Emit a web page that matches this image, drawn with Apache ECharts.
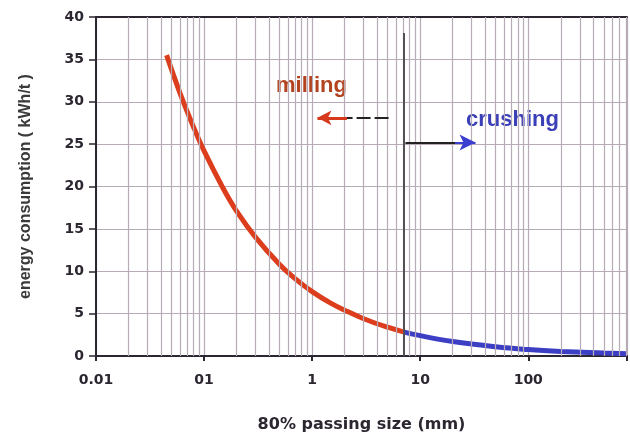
<!DOCTYPE html>
<html>
<head>
<meta charset="utf-8">
<script src="https://cdn.jsdelivr.net/npm/echarts@6/dist/echarts.min.js"></script>
<style>
  html, body { margin: 0; padding: 0; background: #fff; }
  #chart { width: 630px; height: 438px; }
</style>
</head>
<body>
<div id="chart"></div>
<script>
// 80% passing size (mm) -> energy (kWh/t)
const millingSize = [0.045, 0.06, 0.08, 0.1, 0.15, 0.2, 0.3, 0.5, 0.7, 1, 1.5, 2, 3, 5, 7];
const millingEnergy = [35.5, 31.0, 27.0, 24.2, 19.8, 17.1, 14.0, 10.8, 9.1, 7.6, 6.2, 5.4, 4.4, 3.4, 2.85];
const crushingSize = [7, 10, 20, 50, 100, 200, 500, 820];
const crushingEnergy = [2.85, 2.4, 1.7, 1.08, 0.76, 0.54, 0.34, 0.26];

const xTickValues = [0.01, 0.1, 1, 10, 100];
const xTickLabels = ['0.01', '01', '1', '10', '100'];
const xMin = 0.01;
const xMax = 820; // picture is cut just before 1000
const boundarySize = 7;

const chart = echarts.init(document.getElementById('chart'));

// minor log grid lines (2..9 of each decade)
const minorLines = [];
for (let d = 0.01; d < 1000; d *= 10) {
    for (let m = 2; m <= 9; m++) {
        const v = +(d * m).toPrecision(3);
        if (v < xMax) minorLines.push({ xAxis: v });
    }
}

const gridColor = '#b7abb7';
const dark = '#2c2630';
const tickFont = { fontFamily: 'DejaVu Sans', fontWeight: 'bold', fontSize: 14, color: dark };

chart.setOption({
    animation: false,
    grid: { left: 96, top: 17, right: 0, bottom: 81 },
    xAxis: [
        {
            type: 'log',
            logBase: 10,
            min: xMin,
            max: xMax,
            interval: 1,
            name: '80% passing size (mm)',
            nameLocation: 'middle',
            nameGap: 61,
            nameTextStyle: { fontFamily: 'DejaVu Sans', fontWeight: 'bold', fontSize: 16, color: dark },
            axisLine: { lineStyle: { color: dark, width: 2 } },
            axisTick: { length: 5, lineStyle: { color: dark, width: 2 } },
            axisLabel: Object.assign({
                margin: 17,
                formatter: v => {
                    const i = xTickValues.findIndex(t => Math.abs(Math.log10(t) - Math.log10(v)) < 1e-6);
                    return i >= 0 ? xTickLabels[i] : '';
                }
            }, tickFont),
            splitLine: { show: true, lineStyle: { color: gridColor, width: 1.2 } }
        },
        {
            // top frame line only
            type: 'log',
            logBase: 10,
            min: xMin,
            max: xMax,
            position: 'top',
            axisLine: { show: true, lineStyle: { color: dark, width: 2 } },
            axisTick: { show: false },
            axisLabel: { show: false },
            splitLine: { show: false }
        }
    ],
    yAxis: {
        type: 'value',
        min: 0,
        max: 40,
        interval: 5,
        name: 'energy consumption ( kWh/t )',
        nameLocation: 'middle',
        nameGap: 62,
        nameTextStyle: { fontFamily: 'Liberation Sans', fontWeight: 'bold', fontSize: 16, color: '#3a3a3a' },
        axisLine: { show: true, lineStyle: { color: dark, width: 2 } },
        axisTick: { show: true, length: 7, lineStyle: { color: dark, width: 1.5 } },
        axisLabel: Object.assign({ margin: 12 }, tickFont),
        splitLine: { show: true, lineStyle: { color: gridColor, width: 1.2 } }
    },
    series: [
        {
            type: 'line',
            data: [],
            silent: true,
            markLine: {
                silent: true,
                symbol: 'none',
                label: { show: false },
                lineStyle: { color: gridColor, width: 1.2, type: 'solid' },
                data: minorLines
            }
        },
        {
            name: 'milling',
            type: 'line',
            smooth: 0.4,
            showSymbol: false,
            data: millingSize.map((x, i) => [x, millingEnergy[i]]),
            lineStyle: { color: '#dc3d1c', width: 5 },
            markLine: {
                silent: true,
                label: { show: false },
                data: [
                    [{ coord: [boundarySize, 0], symbol: 'none' },
                     { coord: [boundarySize, 38.1], symbol: 'none', lineStyle: { color: '#555055', width: 2, type: 'solid' } }],
                    [{ coord: [5.1, 28.1], symbol: 'none' },
                     { coord: [2.05, 28.1], symbol: 'none', lineStyle: { color: '#222', width: 2, type: [14, 4] } }],
                    [{ coord: [2.1, 28.1], symbol: 'none' },
                     { coord: [1.12, 28.1], symbol: 'arrow', symbolSize: [11, 14], lineStyle: { color: '#d6391c', width: 3, type: 'solid' } }]
                ]
            }
        },
        {
            name: 'crushing',
            type: 'line',
            smooth: 0.4,
            showSymbol: false,
            data: crushingSize.map((x, i) => [x, crushingEnergy[i]]),
            lineStyle: { color: '#3c3fc4', width: 5 },
            markLine: {
                silent: true,
                label: { show: false },
                data: [
                    [{ coord: [7.3, 25.2], symbol: 'none' },
                     { coord: [21.5, 25.2], symbol: 'none', lineStyle: { color: '#222', width: 2, type: 'solid' } }],
                    [{ coord: [21, 25.2], symbol: 'none' },
                     { coord: [32.5, 25.2], symbol: 'arrow', symbolSize: [12, 16], lineStyle: { color: '#3a3fd0', width: 2, type: 'solid' } }]
                ]
            }
        }
    ],
    graphic: [
        {
            type: 'text', left: 276, top: 75,
            style: { text: 'milling', fontFamily: 'Liberation Sans', fontWeight: 'bold', fontSize: 22, fill: '#b2431e' }
        },
        {
            type: 'text', left: 466, top: 109,
            style: { text: 'crushing', fontFamily: 'Liberation Sans', fontWeight: 'bold', fontSize: 22, fill: '#3a3fb8' }
        }
    ]
});
</script>
</body>
</html>
